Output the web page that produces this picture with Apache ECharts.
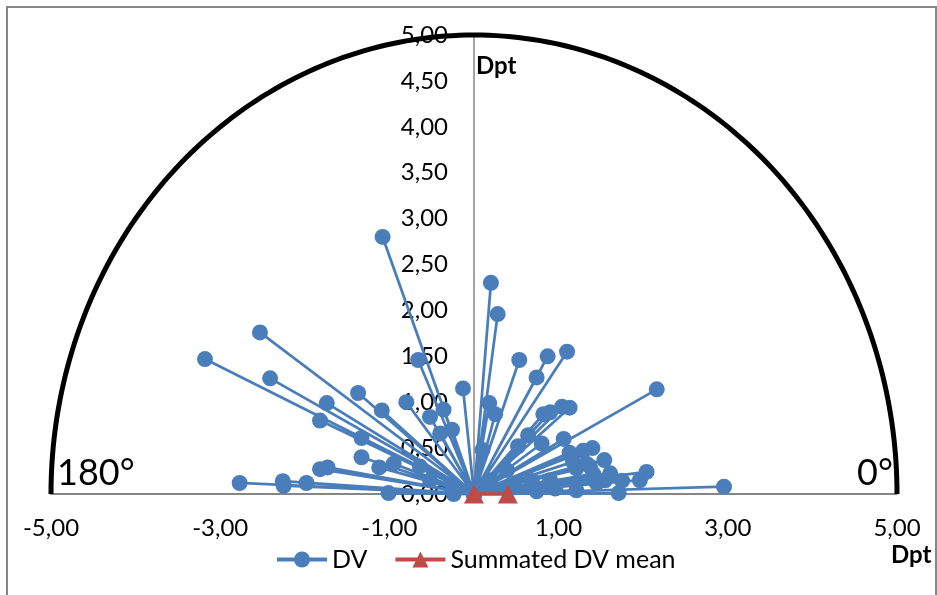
<!DOCTYPE html>
<html>
<head>
<meta charset="utf-8">
<script src="https://cdn.jsdelivr.net/npm/echarts@6/dist/echarts.min.js"></script>
<style>
  html, body { margin: 0; padding: 0; background: #ffffff; }
  #chart { width: 937px; height: 595px; }
</style>
</head>
<body>
<div id="chart"></div>
<script>
// DV vectors (Dpt): x and y components of each vector end point
const dvX = [
  -3.18, -2.53, -2.41, -2.77, -2.26, -2.25, -1.98, -1.74, -1.82, -1.82,
  -1.73, -1.37, -1.09, -1.08, -0.66, -0.80, -0.13, -0.52, -0.36, -1.33,
  -0.26, -0.40, -1.33, -1.12, -0.95, -0.64, -0.52, -1.01, -0.24,
   0.20,  0.28,  0.535, 0.87,  1.10,  0.74,  0.18,  0.25,  0.82,  0.90,
   1.04,  1.13,  2.16,  0.64,  0.52,  0.80,  1.06,  1.13,  1.29,  1.40,
   1.54,  1.17,  1.33,  1.61,  1.75,  1.96,  2.04,  1.71,  2.955, 0.10,
   0.19,  0.68,  0.90,  1.21,  0.74,  1.41,  0.39,  1.21,  1.37,  0.96,
   1.45,  1.55
];
const dvY = [
   1.47,  1.76,  1.26,  0.12,  0.14,  0.09,  0.12,  0.99,  0.80,  0.27,
   0.29,  1.10,  0.91,  2.80,  1.46,  1.00,  1.15,  0.84,  0.92,  0.61,
   0.70,  0.66,  0.40,  0.29,  0.33,  0.30,  0.15,  0.01,  0.00,
   2.30,  1.96,  1.46,  1.50,  1.55,  1.27,  0.99,  0.87,  0.87,  0.89,
   0.95,  0.94,  1.14,  0.64,  0.52,  0.55,  0.60,  0.45,  0.47,  0.50,
   0.37,  0.35,  0.33,  0.225, 0.145, 0.15,  0.24,  0.01,  0.08,  0.48,
   0.15,  0.15,  0.15,  0.04,  0.03,  0.22,  0.26,  0.28,  0.30,  0.06,
   0.12,  0.15
];

// Summated DV mean
const meanX = [0, 0.40];
const meanY = [0, 0];

// Axis ranges and tick steps
const xMin = -5, xMax = 5, xStep = 2;
const yMin = 0, yMax = 5, yStep = 0.5;
const arcRadius = 5;

const seriesNames = ['DV', 'Summated DV mean'];
const angleLabels = ['180°', '0°'];
const axisUnit = 'Dpt';

// Each DV vector is drawn from the origin out to its end point
const dvPath = [];
dvX.forEach((x, i) => {
  dvPath.push([0, 0]);
  dvPath.push([x, dvY[i]]);
});
const meanPath = meanX.map((x, i) => [x, meanY[i]]);

const fmt = v => v.toFixed(2).replace('.', ',');
const FONT = 'Lato, "Open Sans", sans-serif';
const BLUE = '#4A7EBB';
const RED = '#BE4B48';

const GRID_LEFT = 51, GRID_RIGHT = 40;
const CHART_W = 937;
// pixel distance from the grid's left edge to x = 0, so the value axis sits on it
const zeroOffset = (CHART_W - GRID_LEFT - GRID_RIGHT) * (0 - xMin) / (xMax - xMin);

const chart = echarts.init(document.getElementById('chart'), null, { renderer: 'canvas' });

chart.setOption({
  animation: false,
  backgroundColor: '#ffffff',
  grid: {
    left: GRID_LEFT, right: GRID_RIGHT, top: 35, bottom: 101,
    containLabel: false, outerBoundsMode: 'none'
  },
  xAxis: {
    type: 'value', min: xMin, max: xMax, interval: xStep,
    axisLine: { show: true, onZero: true, lineStyle: { color: '#868686', width: 2 } },
    axisTick: { show: false },
    splitLine: { show: false },
    axisLabel: { formatter: fmt, color: '#000', fontFamily: FONT, fontSize: 24, margin: 22 }
  },
  yAxis: {
    type: 'value', min: yMin, max: yMax, interval: yStep,
    position: 'left',
    offset: -zeroOffset,
    axisLine: { show: true, onZero: false, lineStyle: { color: '#868686', width: 1.5 } },
    axisTick: { show: false },
    splitLine: { show: false },
    axisLabel: { formatter: fmt, color: '#000', fontFamily: FONT, fontSize: 24, margin: 26 }
  },
  legend: {
    data: seriesNames,
    left: 270, top: 542,
    itemWidth: 50, itemHeight: 20, itemGap: 26,
    lineStyle: { width: 4 },
    textStyle: { color: '#000', fontFamily: FONT, fontSize: 25 }
  },
  series: [
    {
      // semicircle of radius 5 Dpt
      type: 'custom',
      name: 'arc',
      silent: true,
      clip: false,
      z: 1,
      encode: { x: 0, y: 1 },
      data: [[0, 0, arcRadius]],
      renderItem: (params, api) => {
        const r = api.value(2);
        const pts = [];
        for (let a = 0; a <= 180; a += 1) {
          const t = a * Math.PI / 180;
          pts.push(api.coord([r * Math.cos(t), r * Math.sin(t)]));
        }
        return {
          type: 'polyline',
          shape: { points: pts },
          style: { stroke: '#000', lineWidth: 5, fill: null }
        };
      }
    },
    {
      name: seriesNames[0],
      type: 'line',
      z: 3,
      data: dvPath,
      symbol: 'circle',
      symbolSize: 16,
      showAllSymbol: true,
      clip: false,
      lineStyle: { color: BLUE, width: 2.75 },
      itemStyle: { color: BLUE, borderColor: BLUE, borderWidth: 0 }
    },
    {
      name: seriesNames[1],
      type: 'line',
      z: 4,
      data: meanPath,
      symbol: 'triangle',
      symbolSize: [20, 19],
      clip: false,
      lineStyle: { color: RED, width: 3.5 },
      itemStyle: { color: RED, borderWidth: 0 }
    }
  ],
  graphic: [
    {
      type: 'rect', silent: true, z: -1,
      shape: { x: 7, y: 7, width: 929, height: 600 },
      style: { fill: null, stroke: '#868686', lineWidth: 2 }
    },
    {
      type: 'text', left: 476, top: 54,
      style: { text: axisUnit, font: 'bold 24px ' + FONT, fill: '#000' }
    },
    {
      type: 'text', left: 891, top: 543,
      style: { text: axisUnit, font: 'bold 24px ' + FONT, fill: '#000' }
    },
    {
      type: 'text', left: 57, top: 455,
      style: { text: angleLabels[0], font: '36px ' + FONT, fill: '#000' }
    },
    {
      type: 'text', left: 857, top: 455,
      style: { text: angleLabels[1], font: '36px ' + FONT, fill: '#000' }
    }
  ]
});
</script>
</body>
</html>
